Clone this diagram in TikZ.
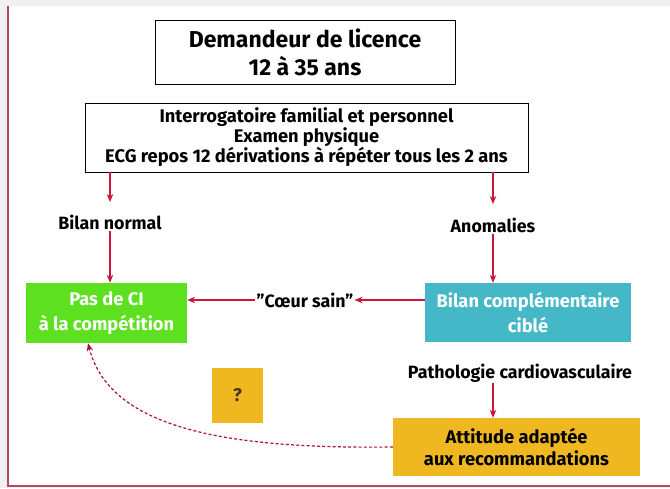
\documentclass[tikz,border=0pt]{standalone}
\usepackage{fontspec}
\setmainfont{Fira Sans}
\usetikzlibrary{arrows.meta}
\definecolor{bgray}{HTML}{EEF0F2}
\definecolor{frame}{HTML}{B5485A}
\definecolor{arr}{HTML}{C8173A}
\definecolor{okgreen}{HTML}{5CE020}
\definecolor{teal}{HTML}{44B8C6}
\definecolor{gold}{HTML}{F0B820}
\tikzset{
  box/.style={draw=black, line width=1pt, align=center, font=\bfseries, inner sep=0pt},
  fillbox/.style={align=center, font=\bfseries, inner sep=0pt},
  lbl/.style={font=\bfseries\fontsize{17.8}{20}\selectfont, inner sep=1pt},
  link/.style={draw=arr, line width=1.2pt, -{Stealth[length=8pt,width=6.5pt]}},
  dlink/.style={draw=arr!85!black, line width=1.2pt, dash pattern=on 3pt off 2.2pt, -{Stealth[length=8pt,width=6.5pt]}}
}
\begin{document}
\begin{tikzpicture}[x=1pt,y=-1pt]
\useasboundingbox (0,0) rectangle (670,488);
\fill[bgray] (0,0) rectangle (670,488);
\fill[white] (8,6) rectangle (670,486);
\draw[frame, line width=1.6pt] (8,6) -- (8,486) -- (670,486);

\node[box, minimum width=300pt, minimum height=64pt, font=\bfseries\fontsize{23}{28}\selectfont] (lic) at (305,52) {Demandeur de licence\\12 à 35 ans};
\node[box, minimum width=443pt, minimum height=69pt, font=\bfseries\fontsize{18.3}{20}\selectfont] (exam) at (306.5,137.5) {Interrogatoire familial et personnel\\Examen physique\\ECG repos 12 dérivations à répéter tous les 2 ans};

\coordinate (ea) at (110,172);
\coordinate (eb) at (493,172);
\node[lbl] (norm) at (110,222) {Bilan normal};
\node[lbl] (anom) at (493,225) {Anomalies};

\node[fillbox, fill=okgreen, text=white, minimum width=161pt, minimum height=60pt, font=\bfseries\fontsize{18.3}{25}\selectfont] (ci) at (106.5,313) {Pas de CI\\à la compétition};
\node[fillbox, fill=teal, text=white, minimum width=206pt, minimum height=59pt, font=\bfseries\fontsize{18.3}{25}\selectfont] (bil) at (528,312.5) {Bilan complémentaire\\ciblé};
\node[lbl] (sain) at (305,300) {"Cœur sain"};
\node[lbl] (patho) at (520,373) {Pathologie cardiovasculaire};
\node[fillbox, fill=gold, text=black, minimum width=247pt, minimum height=58pt, font=\bfseries\fontsize{18.3}{22}\selectfont] (att) at (516.5,447) {Attitude adaptée\\aux recommandations};
\node[fillbox, fill=gold, text=black!60!brown, minimum width=51pt, minimum height=55pt, font=\bfseries\fontsize{18.3}{20}\selectfont] (q) at (237.5,395.5) {?};

\draw[link] (ea) -- (norm.north |- 0,202);
\draw[link] (eb) -- (anom.north |- 0,204);
\draw[link] (norm.south) -- (ci.north -| norm.south);
\draw[link] (anom.south) -- (bil.north -| anom.south);
\draw[link] (bil.west |- 0,300) -- (sain.east);
\draw[link] (sain.west) -- (ci.east |- 0,300);
\draw[link] (patho.south -| 493,0) -- (att.north -| 493,0);
\draw[dlink] (att.west) .. controls (230,449) and (110,430) .. (ci.south -| 88,0);
\end{tikzpicture}
\end{document}
